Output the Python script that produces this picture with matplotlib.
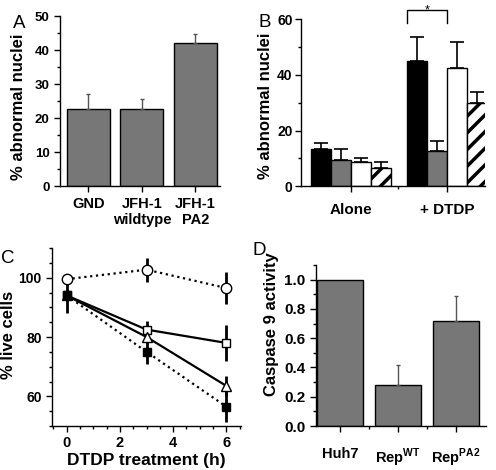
import matplotlib.pyplot as plt
from matplotlib.ticker import MultipleLocator

plt.rcParams['font.family'] = ['Liberation Sans', 'DejaVu Sans']
plt.rcParams['font.weight'] = 'bold'
plt.rcParams['axes.labelweight'] = 'bold'
plt.rcParams['font.size'] = 10
plt.rcParams['hatch.linewidth'] = 2.5

# Panel A
a_labels = ['GND', 'JFH-1\nwildtype', 'JFH-1\nPA2']
a_vals = [22.6, 22.7, 42.2]
a_err = [4.4, 2.8, 2.5]

# Panel B
b_groups = ['Alone', '+ DTDP']
b_black = [13.3, 45.0]
b_black_err = [2.2, 8.5]
b_grey = [9.5, 12.6]
b_grey_err = [3.7, 3.7]
b_white = [8.5, 42.3]
b_white_err = [1.7, 9.7]
b_hatch = [6.5, 30.0]
b_hatch_err = [2.3, 4.0]

# Panel C
c_time = [0, 3, 6]
c_circle = [99.5, 102.7, 96.5]
c_circle_err = [1.5, 4.0, 5.5]
c_square = [94.0, 82.5, 78.0]
c_square_err = [2.0, 3.0, 6.0]
c_triangle = [94.0, 80.0, 63.5]
c_triangle_err = [2.0, 2.0, 3.5]
c_filled = [94.0, 75.0, 56.5]
c_filled_err = [6.0, 4.0, 5.0]

# Panel D
d_labels = ['Huh7', 'Rep$^{\\mathregular{WT}}$', 'Rep$^{\\mathregular{PA2}}$']
d_vals = [1.0, 0.28, 0.72]
d_err = [0.0, 0.135, 0.17]

grey = '#777777'
fig = plt.figure(figsize=(4.96, 4.70), dpi=100)


def style(ax):
    for s in ['top', 'right']:
        ax.spines[s].set_visible(False)
    for s in ['left', 'bottom']:
        ax.spines[s].set_linewidth(1.0)
    ax.tick_params(which='major', direction='out', length=4, width=1)
    ax.tick_params(which='minor', direction='out', length=2, width=1)


# ---- A ----
axA = fig.add_axes([0.121, 0.604, 0.3226, 0.3617])
xa = range(len(a_vals))
axA.bar(xa, a_vals, width=0.8, color=grey, edgecolor='black', linewidth=1)
axA.errorbar(xa, a_vals, yerr=[[0] * 3, a_err], fmt='none', ecolor='#555555',
             elinewidth=1, capsize=1.5, capthick=1)
axA.set_xlim(-0.53, 2.46)
axA.set_ylim(0, 50)
axA.set_xticks(list(xa))
axA.set_xticklabels(a_labels)
axA.yaxis.set_major_locator(MultipleLocator(10))
axA.yaxis.set_minor_locator(MultipleLocator(5))
style(axA)
axA.tick_params(axis='y', labelsize=9.5)
axA.tick_params(axis='x', labelsize=10.5, pad=4)
axA.set_ylabel('% abnormal nuclei', fontsize=12)
axA.yaxis.set_label_coords(-0.21, 0.465)
fig.text(0.026, 0.940, 'A', fontsize=13.5, fontweight='normal')

# ---- B ----
axB = fig.add_axes([0.607, 0.604, 0.371, 0.355])
starts = [0.0, 4.8]
cols = [(b_black, b_black_err, 'black', None),
        (b_grey, b_grey_err, grey, None),
        (b_white, b_white_err, 'white', None),
        (b_hatch, b_hatch_err, 'white', '//')]
for i, (vals, errs, c, h) in enumerate(cols):
    xs = [s + i for s in starts]
    axB.bar(xs, vals, width=1.0, color=c, edgecolor='black', linewidth=1, hatch=h)
    axB.errorbar(xs, vals, yerr=[[0, 0], errs], fmt='none', ecolor='black',
                 elinewidth=1.2, capsize=5, capthick=1.2)
axB.set_xlim(-1.0, 8.2)
axB.set_ylim(0, 60)
axB.set_xticks([s + 1.5 for s in starts])
axB.set_xticklabels(b_groups)
axB.set_xticks([3.85], minor=True)
axB.yaxis.set_major_locator(MultipleLocator(20))
axB.yaxis.set_minor_locator(MultipleLocator(10))
style(axB)
axB.tick_params(axis='y', labelsize=10, pad=2)
axB.tick_params(axis='x', which='major', labelsize=11, pad=8)
axB.set_ylabel('% abnormal nuclei', fontsize=12)
axB.yaxis.set_label_coords(-0.15, 0.48)
axB.plot([4.3, 4.3, 6.3, 6.3], [58.5, 63.2, 63.2, 58.5], color='black', lw=1, clip_on=False)
axB.text(5.3, 62.0, '*', ha='center', va='baseline', fontsize=9, fontweight='normal')
fig.text(0.522, 0.942, 'B', fontsize=13.5, fontweight='normal')

# ---- C ----
axC = fig.add_axes([0.105, 0.0936, 0.381, 0.3787])
axC.errorbar(c_time, c_circle, yerr=c_circle_err, color='black', ls=':', lw=1.6,
             marker='o', mfc='white', mec='black', ms=7.5, mew=1, elinewidth=2, capsize=0, zorder=3)
axC.errorbar(c_time, c_square, yerr=c_square_err, color='black', ls='-', lw=1.6,
             marker='s', mfc='white', mec='black', ms=5.5, mew=1, elinewidth=2, capsize=0, zorder=3)
axC.errorbar(c_time, c_triangle, yerr=c_triangle_err, color='black', ls='-', lw=1.6,
             marker='^', mfc='white', mec='black', ms=6.5, mew=1, elinewidth=2, capsize=0, zorder=3)
axC.errorbar(c_time, c_filled, yerr=c_filled_err, color='black', ls=':', lw=1.6,
             marker='s', mfc='black', mec='black', ms=5.5, mew=1, elinewidth=2, capsize=0, zorder=3)
axC.set_xlim(-0.55, 6.55)
axC.set_ylim(50, 110)
axC.xaxis.set_major_locator(MultipleLocator(2))
axC.xaxis.set_minor_locator(MultipleLocator(0.5))
axC.set_yticks([60, 80, 100])
axC.yaxis.set_minor_locator(MultipleLocator(5))
style(axC)
axC.tick_params(axis='y', labelsize=10)
axC.tick_params(axis='x', labelsize=10.5)
axC.set_xlabel('DTDP treatment (h)', fontsize=12.5, labelpad=2)
axC.set_ylabel('% live cells', fontsize=12)
axC.yaxis.set_label_coords(-0.19, 0.51)
fig.text(0.002, 0.44, 'C', fontsize=13.5, fontweight='normal')

# ---- D ----
axD = fig.add_axes([0.637, 0.0936, 0.343, 0.3426])
xd = range(len(d_vals))
axD.bar(xd, d_vals, width=0.8, color=grey, edgecolor='black', linewidth=1)
axD.errorbar([1, 2], d_vals[1:], yerr=[[0, 0], d_err[1:]], fmt='none', ecolor='#555555',
             elinewidth=1, capsize=1.5, capthick=1)
axD.set_xlim(-0.41, 2.52)
axD.set_ylim(0, 1.1)
axD.set_xticks(list(xd))
axD.set_xticklabels(d_labels)
axD.set_xticks([0.5, 1.5], minor=True)
axD.yaxis.set_major_locator(MultipleLocator(0.2))
axD.yaxis.set_minor_locator(MultipleLocator(0.1))
axD.yaxis.set_major_formatter(plt.FormatStrFormatter('%.1f'))
style(axD)
axD.tick_params(axis='y', labelsize=11)
axD.tick_params(axis='x', labelsize=10.5, pad=11)
axD.set_ylabel('Caspase 9 activity', fontsize=12)
axD.yaxis.set_label_coords(-0.218, 0.63)
fig.text(0.51, 0.457, 'D', fontsize=13.5, fontweight='normal')

fig.savefig('out.png', dpi=100)
